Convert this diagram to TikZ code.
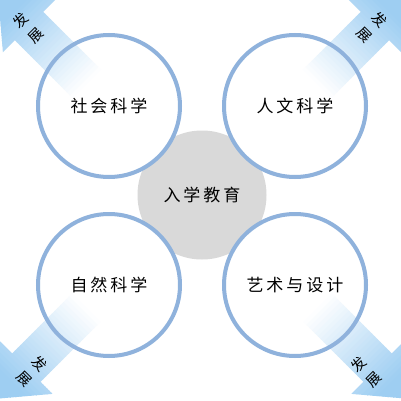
\documentclass[tikz,border=0pt]{standalone}
\usepackage{fontspec}
\setmainfont{Noto Sans CJK SC}
\definecolor{ringblue}{RGB}{143,178,220}
\definecolor{arrowblue}{RGB}{158,206,242}
\definecolor{hubgray}{RGB}{217,217,217}
\newcommand{\gap}{\kern3pt}
\tikzset{
  ringbase/.style={circle, fill=white, minimum size=142pt, inner sep=0pt},
  ring/.style={circle, draw=ringblue, line width=4pt, minimum size=142pt, inner sep=0pt,
    font=\fontsize{17}{20}\selectfont},
  hub/.style={circle, fill=hubgray, minimum size=129pt, inner sep=0pt,
    font=\fontsize{17}{20}\selectfont},
  arrowtext/.style={font=\fontsize{14.5}{21}\selectfont, align=center, inner sep=0pt},
}
\newcommand{\growarrow}[3]{%
  \begin{scope}[shift={#1}, rotate=#2]
    \clip (0,-20) -- ({#3-44},-20) -- ({#3-44},-37) -- (#3,0) -- ({#3-44},37) -- ({#3-44},20) -- (0,20) -- cycle;
    \foreach \i in {0,...,39} {
      \pgfmathsetmacro\pc{max(0,min(100,100*((\i+0.5)/40-0.2)/0.65))}
      \fill[arrowblue!\pc!white] ({#3*\i/40},-38) rectangle ({#3*(\i+1)/40+0.6},38);
    }
  \end{scope}}
\begin{document}
\begin{tikzpicture}[x=1pt, y=-1pt]
  \useasboundingbox (0,0) rectangle (400,401);
  \fill[white] (0,0) rectangle (400,401);
  % hub
  \node[hub] (hub) at (202,195) {};
  % white circle bodies
  \node[ringbase] (b1) at (109,106) {};
  \node[ringbase] (b2) at (295,106) {};
  \node[ringbase] (b3) at (109,285) {};
  \node[ringbase] (b4) at (295,285) {};
  % arrows
  \growarrow{(109,106)}{135}{157}
  \growarrow{(295,106)}{45}{157}
  \growarrow{(109,285)}{225}{161}
  \growarrow{(295,285)}{-45}{161}
  % rings
  \node[ring] (c1) at (b1) {社\gap 会\gap 科\gap 学};
  \node[ring] (c2) at (b2) {人\gap 文\gap 科\gap 学};
  \node[ring] (c3) at (b3) {自\gap 然\gap 科\gap 学};
  \node[ring] (c4) at (b4) {艺\gap 术\gap 与\gap 设\gap 计};
  \node[font=\fontsize{17}{20}\selectfont] (hubtext) at (hub) {入\gap 学\gap 教\gap 育};
  % arrow labels
  \node[arrowtext, rotate=45] (t1) at (28,28) {发\\展};
  \node[arrowtext, rotate=-45] (t2) at (372,27) {发\\展};
  \node[arrowtext, rotate=-45] (t3) at (32,371) {发\\展};
  \node[arrowtext, rotate=45] (t4) at (366,372) {发\\展};
\end{tikzpicture}
\end{document}
